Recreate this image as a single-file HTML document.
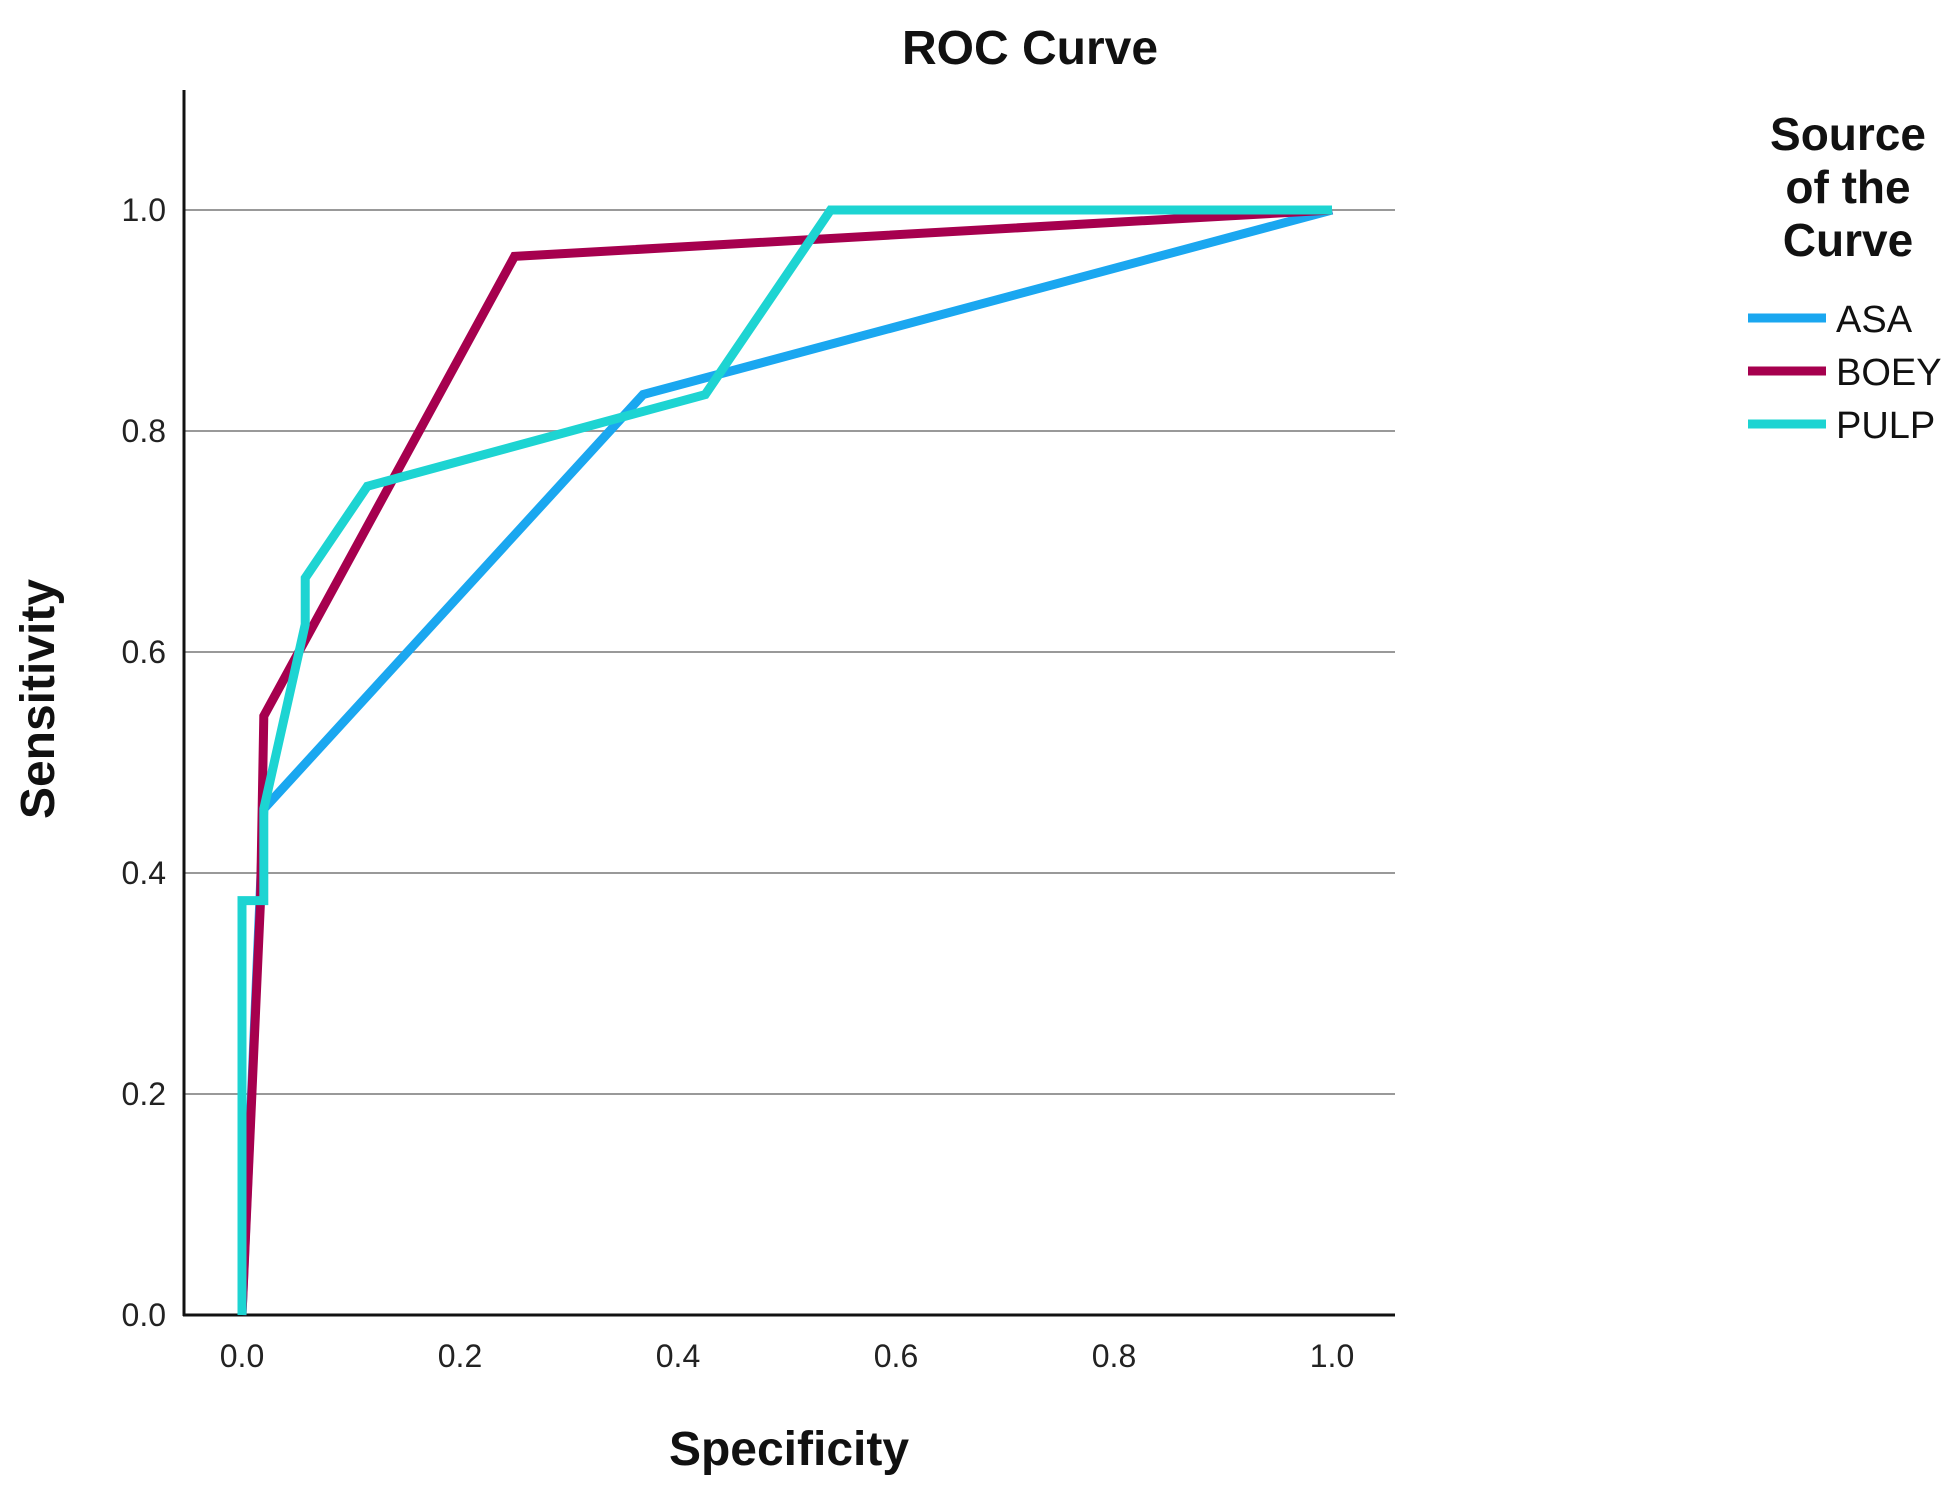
<!DOCTYPE html>
<html><head><meta charset="utf-8"><style>
html,body{margin:0;padding:0;background:#fff;}
svg{display:block;font-family:"Liberation Sans",sans-serif;}
</style></head><body>
<svg id="chart" width="1958" height="1496" viewBox="0 0 1958 1496" xmlns="http://www.w3.org/2000/svg">
<text x="1030" y="64" font-size="48" font-weight="bold" text-anchor="middle" fill="#111">ROC Curve</text>
<g id="grid"></g>
<g id="yticks"></g>
<g id="xticks"></g>
<line x1="184" y1="90" x2="184" y2="1316" stroke="#111" stroke-width="3"/>
<line x1="183" y1="1315" x2="1395" y2="1315" stroke="#111" stroke-width="3"/>
<g id="series"></g>
<text x="789" y="1465" font-size="48" font-weight="bold" text-anchor="middle" fill="#111">Specificity</text>
<text transform="translate(54,699) rotate(-90)" font-size="48" font-weight="bold" text-anchor="middle" fill="#111">Sensitivity</text>
<g>
<text font-size="46" font-weight="bold" text-anchor="middle" fill="#111"><tspan x="1848" y="150">Source</tspan><tspan x="1848" y="203">of the</tspan><tspan x="1848" y="256">Curve</tspan></text>
<g id="legendItems"></g>
</g>
</svg>
<script>
const yTickLabels = ["0.0","0.2","0.4","0.6","0.8","1.0"];
const yTickValues = [0,0.2,0.4,0.6,0.8,1.0];
const xTickLabels = ["0.0","0.2","0.4","0.6","0.8","1.0"];
const xTickValues = [0,0.2,0.4,0.6,0.8,1.0];
const seriesNames = ["ASA","BOEY","PULP"];
const asaX = [0,0.02,0.368,1];
const asaY = [0,0.458,0.833,1];
const boeyX = [0,0.017,0.02,0.25,1];
const boeyY = [0,0.375,0.542,0.958,1];
const pulpX = [0,0,0.02,0.02,0.058,0.058,0.115,0.425,0.54,1];
const pulpY = [0,0.375,0.375,0.458,0.625,0.667,0.75,0.833,1,1];

const NS="http://www.w3.org/2000/svg";
const colors={ASA:"#1aa7f0",BOEY:"#a6004e",PULP:"#1dd4d2"};
function sx(v){return 242+v*1090;}
function sy(v){return 1315-v*1105;}
function mk(t){return document.createElementNS(NS,t);}
const grid=document.getElementById('grid');
const yt=document.getElementById('yticks');
yTickValues.forEach((v,i)=>{
  if(v>0){const l=mk('line');
  
  
  l.setAttribute('x1',184);l.setAttribute('x2',1395);l.setAttribute('y1',sy(v));l.setAttribute('y2',sy(v));
  l.setAttribute('stroke','#999');l.setAttribute('stroke-width','2');grid.appendChild(l);}
  const t=mk('text');
  
  
  t.setAttribute('x',166);t.setAttribute('y',sy(v)+11);t.setAttribute('text-anchor','end');
  t.setAttribute('font-size','32');t.setAttribute('fill','#222');t.textContent=yTickLabels[i];yt.appendChild(t);
});
const xt=document.getElementById('xticks');
xTickValues.forEach((v,i)=>{
  const t=mk('text');
  
  
  t.setAttribute('x',sx(v));t.setAttribute('y',1367);t.setAttribute('text-anchor','middle');
  t.setAttribute('font-size','32');t.setAttribute('fill','#222');t.textContent=xTickLabels[i];xt.appendChild(t);
});
const sg=document.getElementById('series');
const data={ASA:[asaX,asaY],BOEY:[boeyX,boeyY],PULP:[pulpX,pulpY]};
seriesNames.forEach(n=>{
  const [xs,ys]=data[n];
  const p=mk('polyline');
  
  
  p.setAttribute('points',xs.map((x,i)=>sx(x)+','+sy(ys[i])).join(' '));
  p.setAttribute('fill','none');p.setAttribute('stroke',colors[n]);p.setAttribute('stroke-width','9');
  p.setAttribute('stroke-linejoin','miter');
  sg.appendChild(p);
});
const lg=document.getElementById('legendItems');
seriesNames.forEach((n,i)=>{
  const y=318+i*53;
  const l=mk('line');
  
  
  l.setAttribute('x1',1748);l.setAttribute('x2',1826);l.setAttribute('y1',y);l.setAttribute('y2',y);
  l.setAttribute('stroke',colors[n]);l.setAttribute('stroke-width','9');lg.appendChild(l);
  const t=mk('text');
  
  
  t.setAttribute('x',1836);t.setAttribute('y',y+14);t.setAttribute('font-size','38');t.setAttribute('fill','#111');
  t.textContent=n;lg.appendChild(t);
});
</script>
</body></html>
